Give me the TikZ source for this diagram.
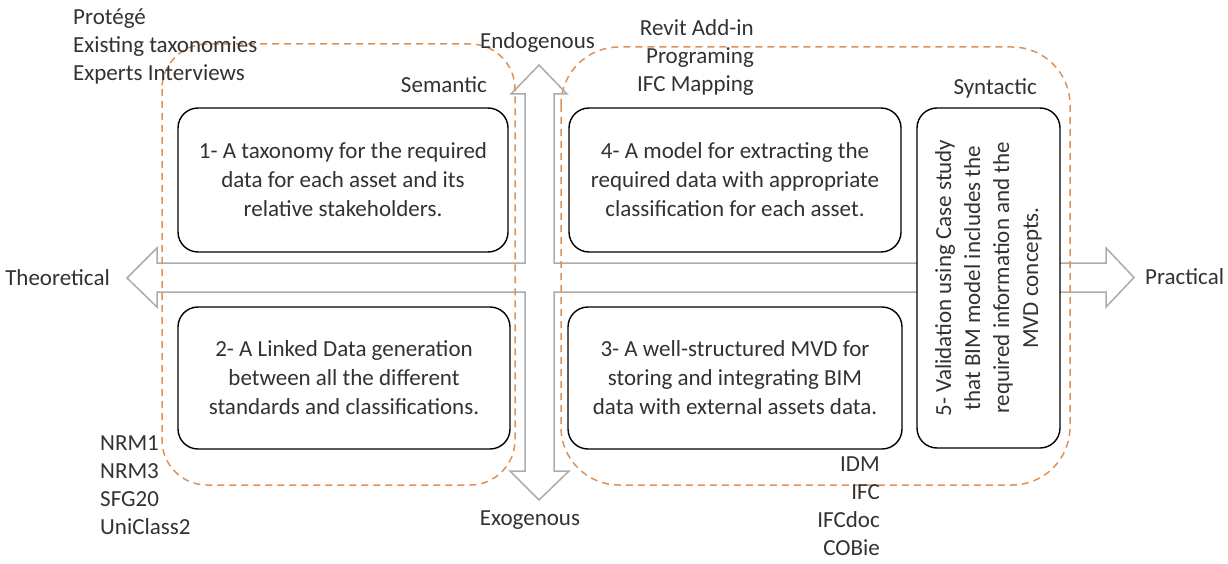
\documentclass[tikz,border=0pt]{standalone}
\usepackage{fontspec}
\setmainfont{Carlito}
\definecolor{axisgray}{RGB}{172,172,172}
\definecolor{scopeorange}{RGB}{222,146,88}
\definecolor{txt}{RGB}{50,50,50}
\begin{document}
\begin{tikzpicture}[x=1pt,y=-1pt,
  stepbox/.style={draw=black, line width=1.4pt, fill=white, rounded corners=20pt,
    align=center, font=\fontsize{23}{29}\selectfont, text=txt, inner sep=0pt},
  scope/.style={draw=scopeorange, line width=1.5pt, dash pattern=on 7pt off 5pt},
  lbl/.style={font=\fontsize{23}{28}\selectfont, text=txt, inner sep=0pt},
  axis/.style={draw=axisgray, line width=1.5pt, fill=white, line join=miter}]
\useasboundingbox (0,0) rectangle (1228,564);

% axis cross: theoretical/practical and endogenous/exogenous
\path[axis] (127,278) -- (157,248) -- (157,263) -- (525,263) -- (525,94)
  -- (511,94) -- (539,65) -- (567,94) -- (554,94) -- (554,263)
  -- (1106,263) -- (1106,248) -- (1134,277.5) -- (1106,307) -- (1106,292)
  -- (554,292) -- (554,471) -- (569,471) -- (539,500) -- (510,471)
  -- (525,471) -- (525,292) -- (157,292) -- (157,307) -- cycle;

% research outcomes
\node[stepbox, minimum width=330pt, minimum height=144pt] (s1) at (343,180)
  {1- A taxonomy for the required\\data for each asset and its\\relative stakeholders.};
\node[stepbox, minimum width=332pt, minimum height=142pt] (s2) at (344,378)
  {2- A Linked Data generation\\between all the different\\standards and classifications.};
\node[stepbox, minimum width=334pt, minimum height=142pt] (s3) at (735,378)
  {3- A well-structured MVD for\\storing and integrating BIM\\data with external assets data.};
\node[stepbox, minimum width=332pt, minimum height=144pt] (s4) at (735,180)
  {4- A model for extracting the\\required data with appropriate\\classification for each asset.};
\node[stepbox, rotate=90, minimum width=340pt, minimum height=143pt] (s5) at (988.5,278)
  {5- Validation using Case study\\that BIM model includes the\\required information and the\\MVD concepts.};

% semantic and syntactic scopes
\draw[scope, rounded corners=45pt] (162,44) rectangle (515,485);
\draw[scope, rounded corners=58pt] (561,47) rectangle (1070,485);

% axis labels
\node[lbl, anchor=east] (theo) at (110,278) {Theoretical};
\node[lbl, anchor=west] (prac) at (1145,277) {Practical};
\node[lbl] (endo) at (537.5,42) {Endogenous};
\node[lbl] (exo) at (530,520) {Exogenous};
\node[lbl, anchor=east] (sem) at (487,85) {Semantic};
\node[lbl, anchor=east] (syn) at (1037,88) {Syntactic};

% tools and standards
\node[lbl, anchor=north west, align=left] (tools1) at (73,9)
  {Protégé\\Existing taxonomies\\Experts Interviews};
\node[lbl, anchor=north east, align=right] (tools4) at (754,19)
  {Revit Add-in\\Programing\\IFC Mapping};
\node[lbl, anchor=north west, align=left] (std2) at (100,435)
  {NRM1\\NRM3\\SFG20\\UniClass2};
\node[lbl, anchor=north east, align=right] (std3) at (880,457)
  {IDM\\IFC\\IFCdoc\\COBie};
\end{tikzpicture}
\end{document}
